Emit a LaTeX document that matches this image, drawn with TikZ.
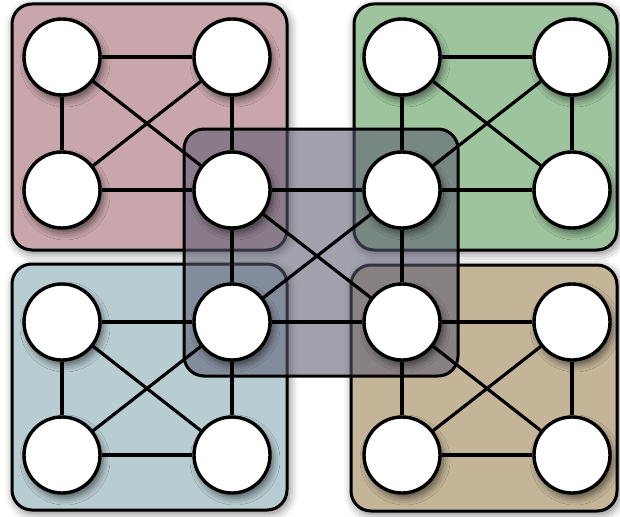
\documentclass[tikz,border=0pt]{standalone}
\usetikzlibrary{shadows.blur}
\definecolor{pinkbox}{RGB}{201,166,172}
\definecolor{greenbox}{RGB}{157,196,157}
\definecolor{bluebox}{RGB}{184,205,210}
\definecolor{tanbox}{RGB}{196,181,152}
\definecolor{centerbox}{RGB}{90,90,112}
\tikzset{
  groupbox/.style={draw=black, line width=3pt, rounded corners=20pt,
    blur shadow={shadow xshift=2pt, shadow yshift=-3pt, shadow blur radius=9pt, shadow opacity=55}},
  midbox/.style={draw=black, line width=3pt, rounded corners=20pt, fill=centerbox, fill opacity=0.56},
  vertex/.style={circle, draw=black, fill=white, line width=3.4pt, minimum size=76pt, inner sep=0pt,
    blur shadow={shadow xshift=3pt, shadow yshift=-5pt, shadow blur radius=7pt, shadow opacity=55}},
  link/.style={draw=black, line width=3.2pt}
}
\begin{document}
\begin{tikzpicture}[x=1pt, y=-1pt]
\useasboundingbox (0,0) rectangle (620,516);
% group boxes
\path[groupbox, fill=pinkbox]  (12,4)   rectangle (287,250);
\path[groupbox, fill=greenbox] (354,4)  rectangle (617,250);
\path[groupbox, fill=bluebox]  (12,264) rectangle (287,510);
\path[groupbox, fill=tanbox]   (351,265) rectangle (617,511);
\path[midbox] (184,129) rectangle (458,376);
% vertices
\foreach \r/\y in {1/57, 2/190, 3/322, 4/455}{
  \foreach \c/\x in {1/62, 2/232, 3/402, 4/572}{
    \node[vertex] (n\r\c) at (\x,\y) {};
  }
}
% edges (K4 in each group)
\foreach \a/\b/\c/\d in {11/12/21/22, 13/14/23/24, 31/32/41/42, 33/34/43/44, 22/23/32/33}{
  \draw[link] (n\a) -- (n\b);
  \draw[link] (n\c) -- (n\d);
  \draw[link] (n\a) -- (n\c);
  \draw[link] (n\b) -- (n\d);
  \draw[link] (n\a) -- (n\d);
  \draw[link] (n\b) -- (n\c);
}
\end{tikzpicture}
\end{document}
